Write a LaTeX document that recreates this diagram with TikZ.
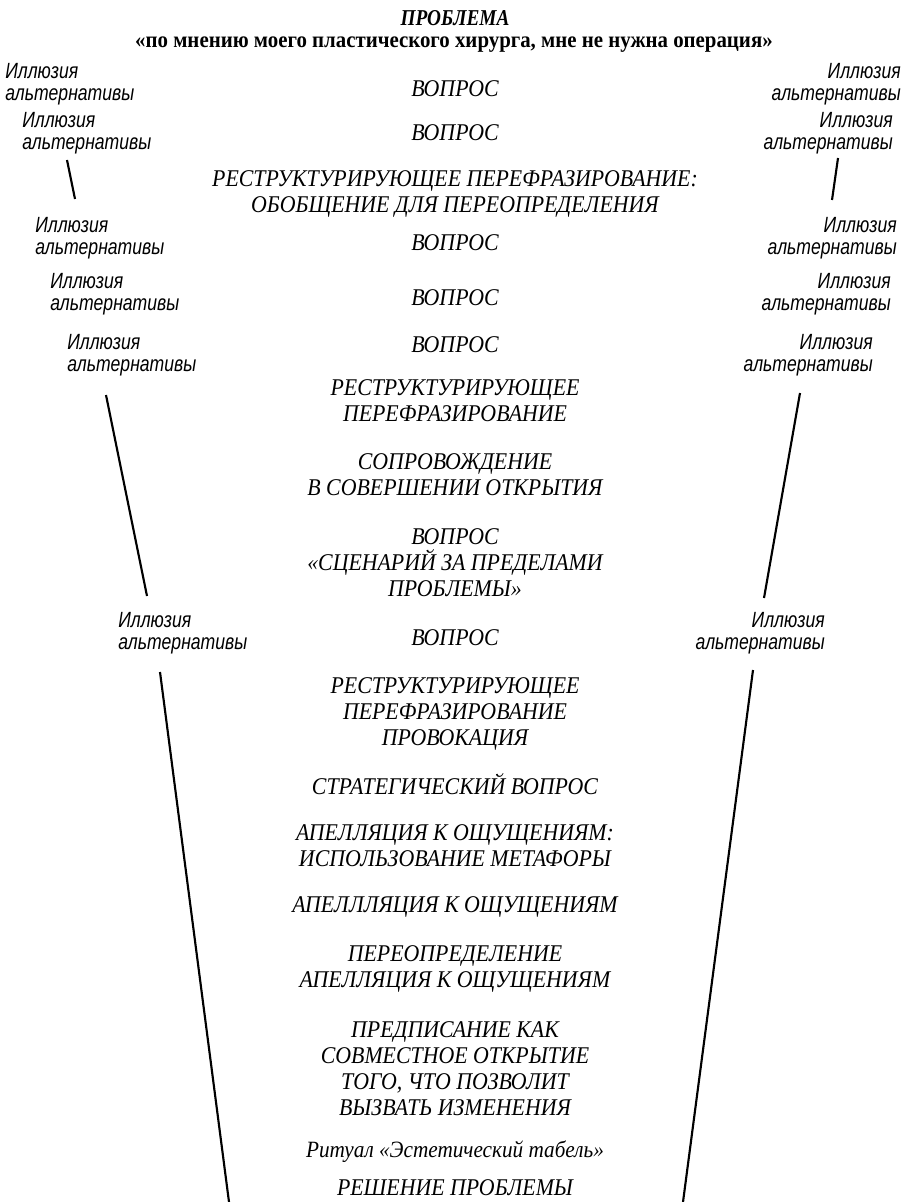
\documentclass[tikz,border=0pt]{standalone}
\usepackage{fontspec}
\setmainfont{Liberation Serif}
\newfontfamily\sidefont[FakeStretch=0.8]{Liberation Sans}
\newfontfamily\cenfont[FakeStretch=0.91]{Liberation Serif}
\newfontfamily\headfont[FakeStretch=0.92]{Liberation Serif}
\newfontfamily\headtitlefont[FakeStretch=0.85]{Liberation Serif}
\begin{document}
\begin{tikzpicture}[x=0.75pt,y=-0.75pt,
  ctext/.style={inner sep=0pt,align=center,font=\fontsize{18}{19.5}\cenfont\itshape},
  ltext/.style={inner sep=0pt,align=left,anchor=west,font=\fontsize{16.5}{16.5}\sidefont\itshape},
  rtext/.style={inner sep=0pt,align=right,anchor=east,font=\fontsize{16.5}{16.5}\sidefont\itshape},
  funnel/.style={line width=1.6pt,line cap=butt}]
\useasboundingbox (0,0) rectangle (906,1202);
% titles
\node[inner sep=0pt,font=\fontsize{17}{19.5}\headtitlefont\bfseries\itshape] (t1) at (455,18) {ПРОБЛЕМА};
\node[inner sep=0pt,font=\fontsize{17}{19.5}\headfont\bfseries] (t2) at (454,45) {«по мнению моего пластического хирурга, мне не нужна операция»};
% side labels
\node[ltext] (L1) at (5,84) {Иллюзия\\альтернативы};
\node[rtext] (R1) at (901,84) {Иллюзия\\альтернативы};
\node[ltext] (L2) at (22,133) {Иллюзия\\альтернативы};
\node[rtext] (R2) at (893,133) {Иллюзия\\альтернативы};
\node[ltext] (L4) at (35,238) {Иллюзия\\альтернативы};
\node[rtext] (R4) at (897,238) {Иллюзия\\альтернативы};
\node[ltext] (L5) at (50,294) {Иллюзия\\альтернативы};
\node[rtext] (R5) at (891,294) {Иллюзия\\альтернативы};
\node[ltext] (L6) at (67,355) {Иллюзия\\альтернативы};
\node[rtext] (R6) at (873,355) {Иллюзия\\альтернативы};
\node[ltext] (L7) at (118,633) {Иллюзия\\альтернативы};
\node[rtext] (R7) at (825,633) {Иллюзия\\альтернативы};
% centre column
\node[ctext] (q1) at (455,89) {ВОПРОС};
\node[ctext] (q2) at (455,133) {ВОПРОС};
\node[ctext] (c3) at (455,193.5) {РЕСТРУКТУРИРУЮЩЕЕ ПЕРЕФРАЗИРОВАНИЕ:\\ОБОБЩЕНИЕ ДЛЯ ПЕРЕОПРЕДЕЛЕНИЯ};
\node[ctext] (q4) at (455,243) {ВОПРОС};
\node[ctext] (q5) at (455,298) {ВОПРОС};
\node[ctext] (q6) at (455,345) {ВОПРОС};
\node[ctext] (c7) at (455,401) {РЕСТРУКТУРИРУЮЩЕЕ\\ПЕРЕФРАЗИРОВАНИЕ};
\node[ctext] (c8) at (455,475) {СОПРОВОЖДЕНИЕ\\В СОВЕРШЕНИИ ОТКРЫТИЯ};
\node[ctext] (c9) at (455,563) {ВОПРОС\\«СЦЕНАРИЙ ЗА ПРЕДЕЛАМИ\\ПРОБЛЕМЫ»};
\node[ctext] (q10) at (455,638) {ВОПРОС};
\node[ctext] (c11) at (455,714) {РЕСТРУКТУРИРУЮЩЕЕ\\ПЕРЕФРАЗИРОВАНИЕ\\ПРОВОКАЦИЯ};
\node[ctext] (c12) at (455,784) {СТРАТЕГИЧЕСКИЙ ВОПРОС};
\node[ctext] (c13) at (455,846) {АПЕЛЛЯЦИЯ К ОЩУЩЕНИЯМ:\\ИСПОЛЬЗОВАНИЕ МЕТАФОРЫ};
\node[ctext] (c14) at (455,907) {АПЕЛЛЛЯЦИЯ К ОЩУЩЕНИЯМ};
\node[ctext] (c15) at (455,969) {ПЕРЕОПРЕДЕЛЕНИЕ\\АПЕЛЛЯЦИЯ К ОЩУЩЕНИЯМ};
\node[ctext] (c16) at (455,1069) {ПРЕДПИСАНИЕ КАК\\СОВМЕСТНОЕ ОТКРЫТИЕ\\ТОГО, ЧТО ПОЗВОЛИТ\\ВЫЗВАТЬ ИЗМЕНЕНИЯ};
\node[ctext,font=\fontsize{17.5}{19.5}\cenfont\itshape] (c17) at (455,1152) {Ритуал «Эстетический табель»};
\node[ctext] (c18) at (455,1188) {РЕШЕНИЕ ПРОБЛЕМЫ};
% funnel lines
\coordinate (la1) at (67,160);  \coordinate (lb1) at (75,199);
\coordinate (ra1) at (838,158); \coordinate (rb1) at (832,200);
\coordinate (la2) at (106,395); \coordinate (lb2) at (147,596);
\coordinate (ra2) at (800,393); \coordinate (rb2) at (764,598);
\coordinate (la3) at (160,672); \coordinate (lb3) at (229,1202);
\coordinate (ra3) at (753,670); \coordinate (rb3) at (683,1202);
\draw[funnel] (la1) -- (lb1);
\draw[funnel] (ra1) -- (rb1);
\draw[funnel] (la2) -- (lb2);
\draw[funnel] (ra2) -- (rb2);
\draw[funnel] (la3) -- (lb3);
\draw[funnel] (ra3) -- (rb3);
\end{tikzpicture}
\end{document}
